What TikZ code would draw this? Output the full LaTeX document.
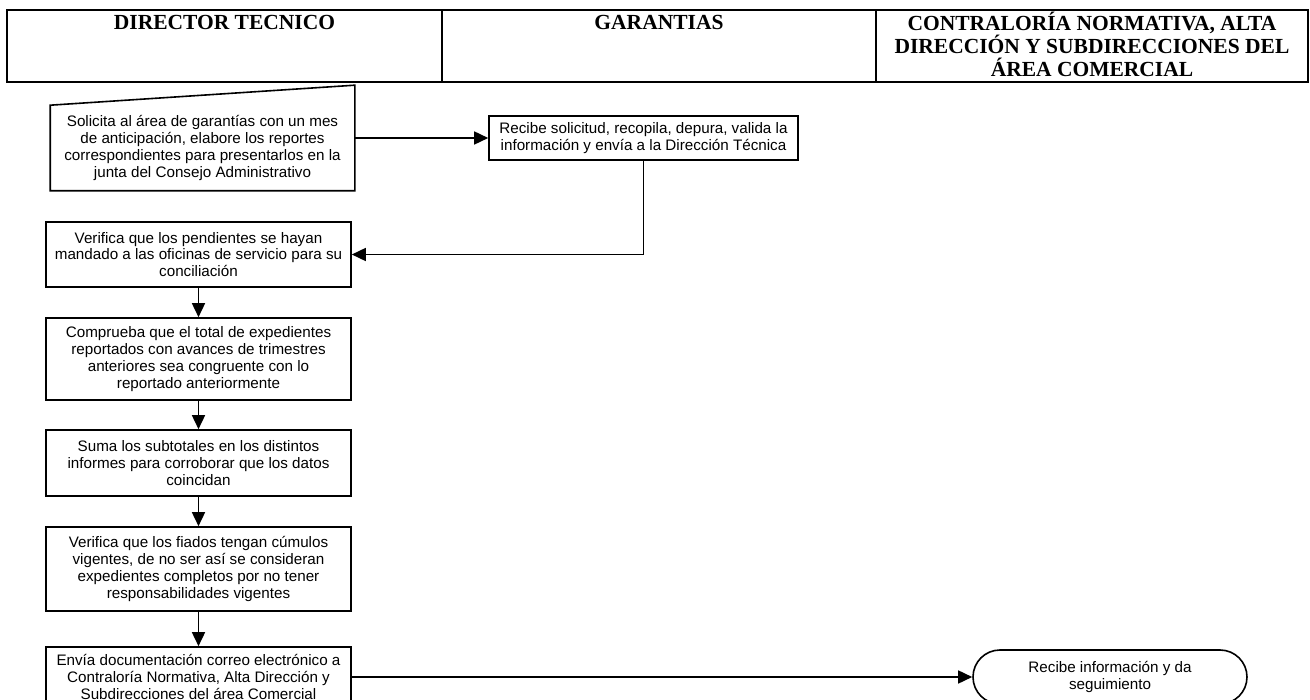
\documentclass[tikz,border=0pt]{standalone}
\usepackage{fontspec}
\setmainfont{Liberation Serif}
\newfontfamily\arialf{Liberation Sans}
\usetikzlibrary{arrows.meta,shapes.misc}
\begin{document}
\begin{tikzpicture}[x=1pt,y=-1pt,
  lane/.style={line width=2.2pt},
  title/.style={font=\bfseries\fontsize{21.5}{23}\selectfont, align=center, anchor=base, inner sep=0pt},
  procbox/.style={draw, line width=1.6pt, font=\arialf\fontsize{15.2}{16.8}\selectfont,
    align=center, inner sep=0pt, minimum width=305pt},
  endbox/.style={procbox, rounded rectangle, minimum width=274pt, minimum height=54pt},
  flow/.style={line width=1.6pt, -{Triangle[length=14pt,width=13pt]}}
]
\useasboundingbox (0,0) rectangle (1310,700);

% swimlane header
\draw[lane] (7,10) rectangle (1308,82);
\draw[lane] (442,10) -- (442,82);
\draw[lane] (876,10) -- (876,82);
\node[title] (t1) at (224.5,30) {DIRECTOR TECNICO};
\node[title] (t2) at (659,30) {GARANTIAS};
% the base anchor of a multi-line node sits on its last line
\node[title] (t3) at (1092,77) {CONTRALORÍA NORMATIVA, ALTA\\DIRECCIÓN Y SUBDIRECCIONES DEL\\ÁREA COMERCIAL};

% manual input step
\node[procbox, draw=none, minimum width=303pt, minimum height=84pt] (s1) at (202.5,148)
  {Solicita al área de garantías con un mes\\de anticipación, elabore los reportes\\correspondientes para presentarlos en la\\junta del Consejo Administrativo};
\draw[line width=1.6pt] (s1.south west) -- (s1.south east) -- ([yshift=20pt]s1.north east) -- (s1.north west) -- cycle;

\node[procbox, minimum width=309pt, minimum height=44pt] (r1) at (643.5,138)
  {Recibe solicitud, recopila, depura, valida la\\información y envía a la Dirección Técnica};

\node[procbox, minimum height=65pt] (v1) at (198.5,254.5)
  {Verifica que los pendientes se hayan\\mandado a las oficinas de servicio para su\\conciliación};
\node[procbox, minimum height=82pt] (c1) at (198.5,359)
  {Comprueba que el total de expedientes\\reportados con avances de trimestres\\anteriores sea congruente con lo\\reportado anteriormente};
\node[procbox, minimum height=66pt] (s2) at (198.5,463)
  {Suma los subtotales en los distintos\\informes para corroborar que los datos\\coincidan};
\node[procbox, minimum height=84pt] (f1) at (198.5,569)
  {Verifica que los fiados tengan cúmulos\\vigentes, de no ser así se consideran\\expedientes completos por no tener\\responsabilidades vigentes};
\node[procbox, minimum height=60pt] (e1) at (198.5,677)
  {Envía documentación correo electrónico a\\Contraloría Normativa, Alta Dirección y\\Subdirecciones del área Comercial};

\node[endbox] (z1) at (1110,677) {Recibe información y da\\seguimiento};

% connectors
\draw[flow] (r1.west -| s1.east) -- (r1.west);
\draw[flow] (r1.south) |- (v1.east);
\draw[flow] (v1) -- (c1);
\draw[flow] (c1) -- (s2);
\draw[flow] (s2) -- (f1);
\draw[flow] (f1) -- (e1);
\draw[flow] (e1.east) -- (z1.west);
\end{tikzpicture}
\end{document}
